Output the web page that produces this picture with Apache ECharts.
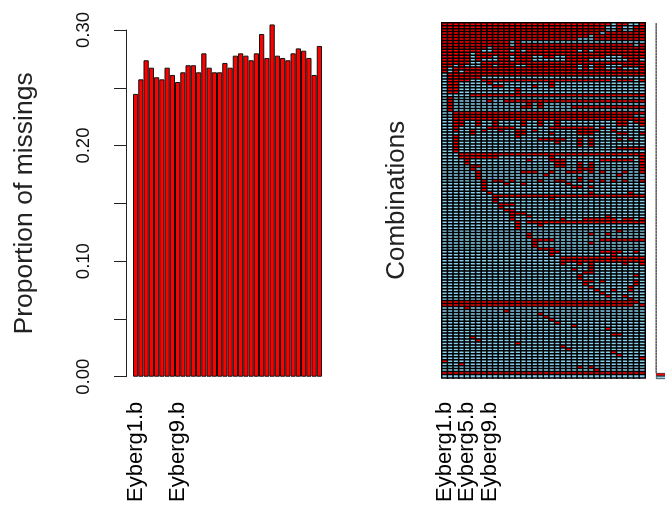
<!DOCTYPE html>
<html><head><meta charset="utf-8">
<style>html,body{margin:0;padding:0;background:#fff}#c{width:665px;height:505px;filter:blur(0.7px)}</style>
<script src="https://cdn.jsdelivr.net/npm/echarts@6/dist/echarts.min.js"></script>
</head><body><div id="c"></div>
<script>
const variables = ["Eyberg1.b","Eyberg2.b","Eyberg3.b","Eyberg4.b","Eyberg5.b","Eyberg6.b","Eyberg7.b","Eyberg8.b","Eyberg9.b","Eyberg10.b","Eyberg11.b","Eyberg12.b","Eyberg13.b","Eyberg14.b","Eyberg15.b","Eyberg16.b","Eyberg17.b","Eyberg18.b","Eyberg19.b","Eyberg20.b","Eyberg21.b","Eyberg22.b","Eyberg23.b","Eyberg24.b","Eyberg25.b","Eyberg26.b","Eyberg27.b","Eyberg28.b","Eyberg29.b","Eyberg30.b","Eyberg31.b","Eyberg32.b","Eyberg33.b","Eyberg34.b","Eyberg35.b","Eyberg36.b"];
const proportions = [.2447,.2573,.2738,.2674,.2591,.2573,.2674,.2611,.2550,.2634,.2695,.2695,.2634,.2798,.2674,.2634,.2634,.2715,.2674,.2778,.2798,.2778,.2738,.2798,.2965,.2758,.3048,.2778,.2758,.2738,.2798,.2841,.2821,.2758,.2611,.2862];
const barLabels = ["Eyberg1.b","Eyberg9.b"];
const matrixLabels = ["Eyberg1.b","Eyberg5.b","Eyberg9.b"];
const yTickLabels = ["0.00","0.10","0.20","0.30"];
// missing columns of each combination, top row first
const combinations = [
"0-29,31-32,35","0-28,31,34-35","0-28,31,34-35","0-27,29-35","0-25,27-35","0-23,27-35","0-11,13","0-11,13-33,35","0-7,9-35","0-6,9-11,13,15-23,25,27-35",
"0-4,6-35","0-4,6-8,10-11,13-15,18-19,22-28,32-35","0-4,6,10-11,13-15,22-25,33-34","0-4,7-35","0-1,3,7-8,10-12,15-23,25,27-28,32-35","0,2-23,25,27-28,31,35","0,2,4-35","1-35","1-6","1-4,7-29,31-33,35",
"1-2,8,19","1-2,9-10,16,19","1-2,13","1-2,13","5-35","1","1,8,11-35","1,15,17","1,14-15,17,23-35","1",
"2-35","2-33","2-35","2-3,6,9,14,17,20,31-32,34-35","2-3,6,9,14,17,20,31-32,35","2,8-12,19-26,28","2,5,7,10,13-14,16,24-27,30","5,13-14,19,24-26,31-32,35","2,13","2,17-21,24,26,31,33",
"2,20,24,26","2,24,26","2,31-35","2","3-35","3-9,19,35","4,15,19-21,28-33,35","4,20-21,24,26,35","5-6,20-21,24,26,35","5,24-26,35",
"6,14-16,19,22-24,26,28,32,35","6,18,31","6,24","7,9-10,12,17,20-21,24,26,28,30,32,35","7,11,14,22","7,23-24,26","7","8,26,33","9-35","9,19",
"9","10-12","10","11-12","12-14","12,15,29","12,21,25-30,32-33,35","13,15-35","13,17","13",
"31","15,26,29","15","16-19,28-35","16,26","16","17-19","19-20,28-31,34","19,30","21-35",
"21-35","21,24,26,32,35","26","23,26","25-26","24,34","24","25-26,28,34","25,34","26,33",
"27,30,33","28","29,32","33","0-34","0-33,35","4","11","17","18",
"19","20","23","29","","30-31","5","6","13","21",
"22","30","31","35","0","3","24,26","27","0-35",""
];
const frequencies = [1,1,1,1,1,1,1,1,1,1,1,1,1,1,1,1,1,1,1,1,1,1,1,1,1,1,1,1,1,1,1,1,1,1,1,1,1,1,1,1,1,1,1,1,1,1,1,1,1,1,1,1,1,1,1,1,1,1,1,1,1,1,1,1,1,1,1,1,1,1,1,1,1,1,1,1,1,1,1,1,1,1,1,1,1,1,1,1,1,1,1,1,1,1,1,1,1,1,1,1,1,1,1,1,1,1,1,1,1,1,1,1,1,1,1,1,1,1,300,300];

const RED='#ff0000', BLUE='#87ceeb', FONT='"Liberation Sans", Arimo, Helvetica, Arial, sans-serif';
const rowNames = combinations.map((_,i)=>'c'+i);
function parseRow(s){const set=new Set();if(!s)return set;s.split(',').forEach(p=>{const [a,b]=p.split('-').map(Number);for(let i=a;i<=(b===undefined?a:b);i++)set.add(i);});return set;}
const cells=[];
combinations.forEach((s,r)=>{const set=parseRow(s);variables.forEach((_,c)=>{cells.push({value:[c,r,set.has(c)?1:0],itemStyle:{color:set.has(c)?RED:BLUE}});});});

const chart=echarts.init(document.getElementById('c'),null,{renderer:'canvas',width:665,height:505});
chart.setOption({
 animation:false,
 grid:[
  {left:133,width:189,top:30,height:348},
  {left:442,width:203,top:23,height:356},
  {left:656,width:120,top:23,height:356}
 ],
 xAxis:[
  {gridIndex:0,type:'category',data:variables,axisLine:{show:false},axisTick:{show:false},
   axisLabel:{rotate:90,margin:25,fontSize:22,fontFamily:FONT,color:'#000',
    interval:(i,v)=>barLabels.includes(v),hideOverlap:false}},
  {gridIndex:1,type:'category',data:variables,axisLine:{show:false},axisTick:{show:false},splitLine:{show:false},
   axisLabel:{rotate:90,margin:24,fontSize:22,fontFamily:FONT,color:'#000',
    interval:(i,v)=>matrixLabels.includes(v),hideOverlap:false}},
  {gridIndex:2,type:'value',min:0,max:100,show:false}
 ],
 yAxis:[
  {gridIndex:0,type:'value',min:0,max:0.3,interval:0.05,offset:7,position:'left',
   axisLine:{show:true,lineStyle:{color:'#222',width:1}},
   axisTick:{show:true,length:12,lineStyle:{color:'#222',width:1}},
   splitLine:{show:false},
   axisLabel:{rotate:90,margin:33,fontSize:18.5,fontFamily:FONT,color:'#111',
    formatter:v=>{const t=v.toFixed(2);return yTickLabels.includes(t)?t:'';}},
   name:'Proportion of missings',nameLocation:'middle',nameRotate:90,nameGap:88,
   nameTextStyle:{fontSize:26.5,fontFamily:FONT,color:'#222'}},
  {gridIndex:1,type:'category',data:rowNames,inverse:true,
   axisLine:{show:false},axisTick:{show:false},axisLabel:{show:false},splitLine:{show:false},
   name:'Combinations',nameLocation:'middle',nameRotate:90,nameGap:32,
   nameTextStyle:{fontSize:26,fontFamily:FONT,color:'#222'}},
  {gridIndex:2,type:'category',data:rowNames,inverse:true,show:false}
 ],
 series:[
  {type:'bar',xAxisIndex:0,yAxisIndex:0,data:proportions,barWidth:'100%',clip:false,
   itemStyle:{color:RED,borderColor:'#111',borderWidth:1}},
  {type:'heatmap',xAxisIndex:1,yAxisIndex:1,data:cells,progressive:0,
   itemStyle:{borderColor:'#000',borderWidth:1.5},emphasis:{disabled:true}},
  {type:'bar',xAxisIndex:2,yAxisIndex:2,barWidth:'100%',
   data:frequencies.map((v,i)=>({value:v,itemStyle:{color:i===combinations.length-1?BLUE:RED}})),
   itemStyle:{borderColor:'#000',borderWidth:0.6}}
 ]
});
</script></body></html>
